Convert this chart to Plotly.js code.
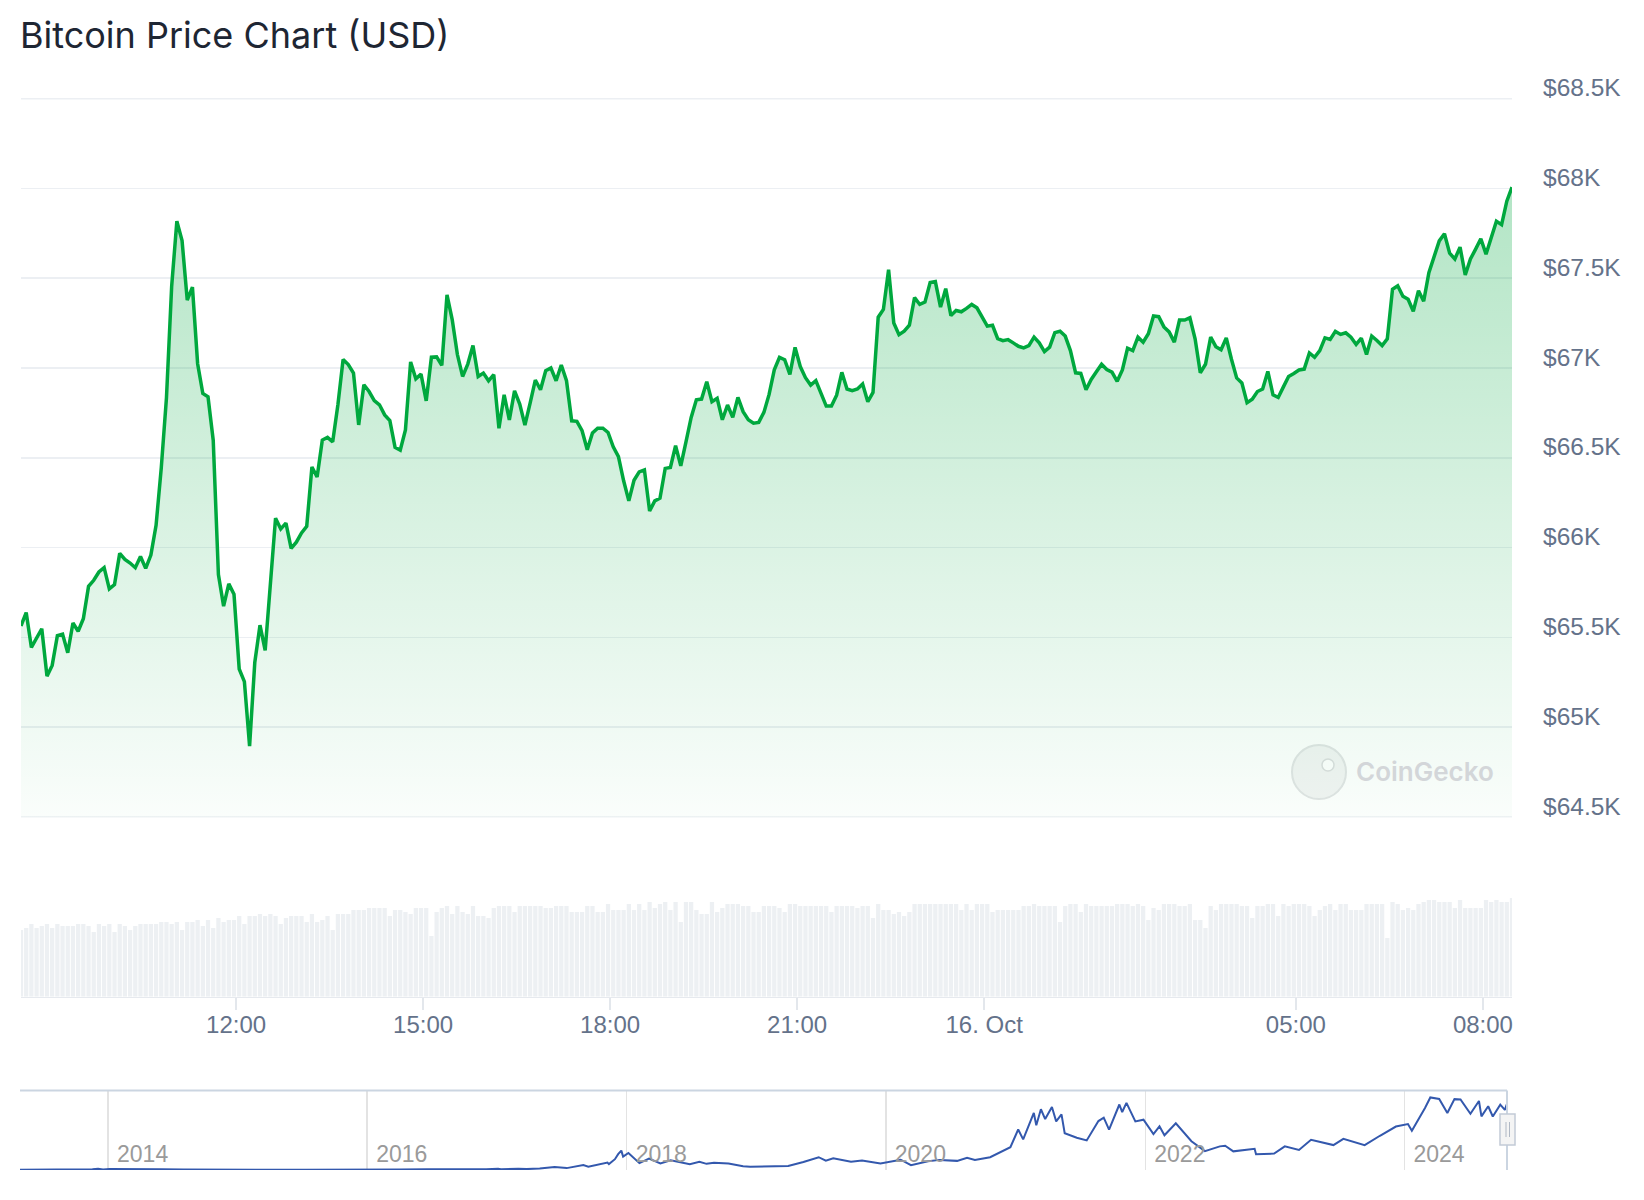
<!DOCTYPE html>
<html><head><meta charset="utf-8">
<script src="https://cdn.plot.ly/plotly-3.0.1.min.js"></script>
<style>html,body{margin:0;padding:0;background:#fff;}#chart{width:1644px;height:1200px;}</style>
</head><body><div id="chart"></div>
<script>
const chartTitle = 'Bitcoin Price Chart (USD)';
const startTime = '2024-10-15T08:33:00Z';
const intervalMinutes = 5;

const priceValues = [
65564,65638,65444,65496,65548,65284,65344,65510,65518,65414,
65580,65534,65604,65784,65818,65864,65888,65770,65794,65968,
65934,65914,65888,65950,65884,65958,66124,66444,66834,67454,
67818,67710,67378,67450,67024,66858,66840,66598,65850,65674,
65798,65740,65324,65254,64894,65360,65568,65428,65800,66164,
66104,66136,65996,66030,66082,66119,66449,66393,66599,66614,
66589,66795,67047,67019,66972,66683,66907,66869,66819,66795,
66739,66707,66558,66543,66655,67034,66940,66966,66817,67060,
67062,67015,67407,67270,67075,66953,67022,67125,66953,66972,
66929,66963,66664,66851,66711,66873,66799,66682,66805,66933,
66879,66985,67000,66929,67017,66929,66706,66703,66651,66545,
66638,66665,66665,66641,66561,66506,66372,66260,66375,66422,
66433,66204,66260,66275,66441,66446,66567,66455,66589,66725,
66823,66827,66924,66812,66831,66712,66794,66725,66836,66757,
66712,66693,66697,66753,66853,66990,67059,67046,66965,67115,
67008,66946,66905,66930,66859,66788,66788,66849,66976,66883,
66874,66883,66911,66812,66864,67283,67326,67547,67251,67186,
67205,67238,67392,67354,67367,67476,67481,67339,67442,67292,
67320,67313,67332,67354,67335,67285,67233,67238,67163,67152,
67158,67140,67121,67112,67125,67172,67140,67091,67116,67197,
67205,67178,67097,66973,66970,66879,66936,66979,67021,66992,
66977,66926,66989,67110,67097,67172,67144,67191,67290,67286,
67229,67201,67144,67267,67267,67280,67163,66973,67021,67172,
67119,67102,67167,67049,66945,66917,66807,66826,66869,66883,
66981,66851,66836,66895,66953,66970,66989,66994,67084,67060,
67097,67168,67159,67204,67187,67196,67172,67131,67166,67075,
67178,67153,67125,67163,67439,67458,67400,67383,67316,67430,
67372,67531,67626,67708,67748,67639,67607,67673,67518,67607,
67662,67720,67634,67723,67817,67798,67929,68007
];

const volumeValues = [
200,206,218,206,212,218,206,218,212,212,
212,218,218,212,194,218,212,218,194,218,
212,200,212,218,218,218,218,224,224,218,
224,200,224,224,230,212,230,206,236,224,
230,230,242,218,242,242,248,242,248,242,
218,236,242,242,242,224,248,224,230,242,
200,248,248,248,260,260,260,266,266,266,
266,242,260,260,254,248,266,266,266,182,
254,266,272,248,272,254,248,272,242,242,
236,266,272,272,272,254,272,272,272,272,
272,266,266,272,272,272,254,254,254,272,
272,254,254,278,260,260,260,278,260,278,
260,284,266,278,284,260,284,224,284,284,
260,248,248,284,254,266,278,278,278,272,
272,254,254,272,272,272,266,254,278,278,
272,272,272,272,
272,272,254,272,272,272,272,266,272,272,
236,278,260,260,248,254,242,254,278,278,
278,278,278,278,278,278,278,260,278,260,
278,278,278,254,260,260,260,260,260,272,
272,278,272,272,272,272,224,272,278,278,
254,278,272,272,272,272,272,278,278,278,
272,278,272,230,266,260,278,278,278,272,
272,278,230,230,206,272,260,278,278,278,
278,272,272,236,272,272,278,278,242,278,
272,278,278,278,272,242,260,272,278,260,
278,278,260,260,260,278,278,278,278,176,
284,278,260,266,260,278,284,290,290,284,
284,284,266,290,266,266,266,266,290,284,
290,284,284,296
];

const priceTickValues = [64500,65000,65500,66000,66500,67000,67500,68000,68500];
const priceTickLabels = ['$64.5K','$65K','$65.5K','$66K','$66.5K','$67K','$67.5K','$68K','$68.5K'];
const timeTickValues = ['2024-10-15 12:00','2024-10-15 15:00','2024-10-15 18:00','2024-10-15 21:00','2024-10-16 00:00','2024-10-16 05:00','2024-10-16 08:00'];
const timeTickLabels = ['12:00','15:00','18:00','21:00','16. Oct','05:00','08:00'];

const navDates = [
'2013-04-28','2013-06-01','2013-07-05','2013-08-01','2013-09-01','2013-10-01','2013-11-01','2013-11-18','2013-12-04','2013-12-18',
'2014-01-05','2014-02-01','2014-02-25','2014-04-10','2014-06-01','2014-08-01','2014-10-01','2014-12-01','2015-01-14','2015-03-01',
'2015-06-01','2015-07-12','2015-09-01','2015-11-04','2015-12-20','2016-02-01','2016-04-01','2016-06-17','2016-08-03','2016-10-01',
'2016-12-01','2017-01-04','2017-01-12','2017-03-02','2017-03-25','2017-05-01','2017-05-25','2017-06-12','2017-07-16','2017-08-01',
'2017-09-01','2017-09-15','2017-10-01','2017-11-08','2017-11-12','2017-11-29','2017-12-08','2017-12-17','2017-12-22','2018-01-06',
'2018-02-06','2018-03-05','2018-04-06','2018-05-05','2018-06-28','2018-07-25','2018-08-14','2018-09-04','2018-10-15','2018-11-25',
'2018-12-15','2019-01-31','2019-04-01','2019-05-14','2019-06-26','2019-07-16','2019-08-06','2019-09-25','2019-10-26','2019-12-17',
'2020-02-12','2020-03-12','2020-04-29','2020-06-01','2020-07-20','2020-08-17','2020-09-08','2020-10-21','2020-11-24','2020-12-17',
'2021-01-08','2021-01-22','2021-02-21','2021-02-28','2021-03-13','2021-03-25','2021-04-13','2021-04-25','2021-05-10','2021-05-19',
'2021-06-22','2021-07-20','2021-08-22','2021-09-06','2021-09-21','2021-10-20','2021-10-28','2021-11-09','2021-12-04','2021-12-27',
'2022-01-24','2022-02-10','2022-02-24','2022-03-28','2022-05-11','2022-06-18','2022-07-30','2022-08-14','2022-09-06','2022-11-05',
'2022-11-09','2022-12-30','2023-01-29','2023-03-10','2023-04-13','2023-06-15','2023-07-13','2023-09-11','2023-10-24','2023-12-08',
'2024-01-11','2024-01-22','2024-02-28','2024-03-14','2024-04-08','2024-05-01','2024-05-21','2024-06-07','2024-07-05','2024-07-29',
'2024-08-05','2024-08-24','2024-09-06','2024-09-27','2024-10-10','2024-10-15'
];
const navPrices = [
135,120,80,105,140,130,205,700,1150,540,
950,820,530,380,660,590,380,380,180,270,
225,310,230,400,440,375,420,750,545,615,
750,1140,780,1260,940,1420,2500,2950,1900,2730,
4900,3200,4400,7450,5900,10900,16000,19500,13500,17200,
6900,11500,6600,9800,5900,8200,6200,7350,6600,3800,
3200,3450,4150,8000,12900,9400,11900,8400,9500,6600,
10350,4900,8800,10200,9200,12300,10100,12900,19200,23000,
40800,30900,57500,45000,61200,51300,63500,49000,56000,37000,
32500,29800,49300,52700,40600,66000,58400,67600,49000,50700,
36200,44000,35000,47100,29000,19000,23800,24400,18800,21300,
15900,16500,23800,20200,30400,25100,31400,25100,34500,43800,
46300,39600,62500,73100,71600,57500,71400,71000,56600,69500,
54000,64200,53900,65800,60500,66000
];
const navYearTicks = ['2014-01-01','2016-01-01','2018-01-01','2020-01-01','2022-01-01','2024-01-01'];
const navYearLabels = ['2014','2016','2018','2020','2022','2024'];

const t0 = Date.parse(startTime);
const times = priceValues.map((_, i) =>
  new Date(t0 + i * intervalMinutes * 60000).toISOString().slice(0, 16).replace('T', ' '));

const W = 1644, H = 1200;
const px = x => x / W;
const py = y => 1 - y / H;

const priceTrace = {
  type: 'scatter', mode: 'lines', x: times, y: priceValues,
  xaxis: 'x', yaxis: 'y',
  line: {color: '#00a83e', width: 3.5, shape: 'linear'},
  fill: 'tozeroy',
  fillgradient: {type: 'vertical', start: 64500, stop: 68000,
    colorscale: [[0, 'rgba(0,168,62,0.02)'], [1, 'rgba(0,168,62,0.30)']]},
  hoverinfo: 'skip'
};
const volumeTrace = {
  type: 'bar', x: times, y: volumeValues, xaxis: 'x2', yaxis: 'y2',
  marker: {color: '#edf0f3', line: {width: 0}}, hoverinfo: 'skip'
};
const navTrace = {
  type: 'scatter', mode: 'lines', x: navDates, y: navPrices, xaxis: 'x3', yaxis: 'y3',
  line: {color: '#3358ad', width: 2}, hoverinfo: 'skip'
};

const axisFont = {family: 'Liberation Sans, Arial, sans-serif', size: 24, color: '#64728a'};
const xRange = [times[0], times[times.length - 1]];
const edgeGrid = v => ({type: 'line', xref: 'paper', yref: 'y', layer: 'below',
  x0: px(21), x1: px(1512), y0: v, y1: v, line: {color: '#eceff3', width: 1.5}});

const layout = {
  width: W, height: H,
  margin: {l: 0, r: 0, t: 0, b: 0},
  paper_bgcolor: '#ffffff', plot_bgcolor: 'rgba(0,0,0,0)',
  showlegend: false, bargap: 0.18,
  title: {text: chartTitle, x: px(20), xanchor: 'left', y: py(35), yanchor: 'middle',
    font: {family: 'Inter, sans-serif', size: 36, color: '#1e2633'}},
  xaxis: {domain: [px(21), px(1512)], anchor: 'y', type: 'date', range: xRange,
    showticklabels: false, showgrid: false, zeroline: false, showline: false, ticks: ''},
  yaxis: {domain: [py(817.5), py(98.1)], anchor: 'x', range: [64497, 68503], side: 'right',
    tickmode: 'array', tickvals: priceTickValues, ticktext: priceTickLabels,
    showgrid: true, gridcolor: '#eceff3', gridwidth: 1.5, zeroline: false, showline: false,
    ticks: '', tickfont: Object.assign({}, axisFont, {size: 24.5}),
    ticklabelshift: -11, ticklabelstandoff: 30},
  xaxis2: {domain: [px(21), px(1512)], anchor: 'y2', type: 'date', range: xRange,
    tickmode: 'array', tickvals: timeTickValues, ticktext: timeTickLabels,
    tickfont: axisFont, ticks: 'outside', ticklen: 12, tickwidth: 1.5, tickcolor: '#e3e7ec',
    showline: true, linecolor: '#e6e9ee', linewidth: 1.5, showgrid: false, zeroline: false,
    ticklabelstandoff: -6},
  yaxis2: {domain: [py(996.7), py(896.7)], anchor: 'x2', range: [0, 300], visible: false},
  xaxis3: {domain: [px(20), px(1507)], anchor: 'y3', type: 'date', range: ['2013-04-28', '2024-10-16'],
    tickmode: 'array', tickvals: navYearTicks, ticktext: navYearLabels,
    ticklabelposition: 'inside right', ticks: '', ticklabelshift: 9, ticklabelstandoff: -3,
    tickfont: {family: 'Liberation Sans, Arial, sans-serif', size: 23, color: '#9a9a9a'},
    showgrid: true, gridcolor: '#e3e3e3', gridwidth: 1.5, zeroline: false, showline: false},
  yaxis3: {domain: [py(1170), py(1091)], anchor: 'x3', range: [0, 79600], visible: false},
  shapes: [
    edgeGrid(priceTickValues[0]),
    edgeGrid(priceTickValues[priceTickValues.length - 1]),
    {type: 'line', xref: 'paper', yref: 'paper', x0: px(20), x1: px(1507), y0: py(1090.5), y1: py(1090.5),
      line: {color: '#cbd5e1', width: 2}},
    {type: 'line', xref: 'paper', yref: 'paper', x0: px(1507), x1: px(1507), y0: py(1090.5), y1: py(1170),
      line: {color: '#cbd5e1', width: 2}},
    {type: 'rect', xref: 'paper', yref: 'paper', x0: px(1500), x1: px(1515), y0: py(1145), y1: py(1114),
      fillcolor: '#f4f4f4', line: {color: '#c2cad6', width: 1.5}},
    {type: 'line', xref: 'paper', yref: 'paper', x0: px(1506), x1: px(1506), y0: py(1137), y1: py(1122),
      line: {color: '#b0b8c4', width: 1}},
    {type: 'line', xref: 'paper', yref: 'paper', x0: px(1509.5), x1: px(1509.5), y0: py(1137), y1: py(1122),
      line: {color: '#b0b8c4', width: 1}},
    {type: 'circle', xref: 'paper', yref: 'paper', layer: 'below', x0: px(1292), x1: px(1346), y0: py(799), y1: py(745),
      fillcolor: '#f3f4f4', line: {color: '#e2e4e5', width: 2}},
    {type: 'circle', xref: 'paper', yref: 'paper', layer: 'below', x0: px(1322), x1: px(1334), y0: py(771), y1: py(759),
      fillcolor: '#ffffff', line: {color: '#dcdedf', width: 1.5}}
  ],
  annotations: [
    {text: 'CoinGecko', xref: 'paper', yref: 'paper', x: px(1354), y: py(771), xanchor: 'left', yanchor: 'middle',
      showarrow: false, font: {family: 'Inter, sans-serif', size: 26, weight: 600, color: '#d3d6d9'}}
  ]
};

Plotly.newPlot('chart', [volumeTrace, priceTrace, navTrace], layout, {displayModeBar: false, staticPlot: true});
</script>
</body></html>
